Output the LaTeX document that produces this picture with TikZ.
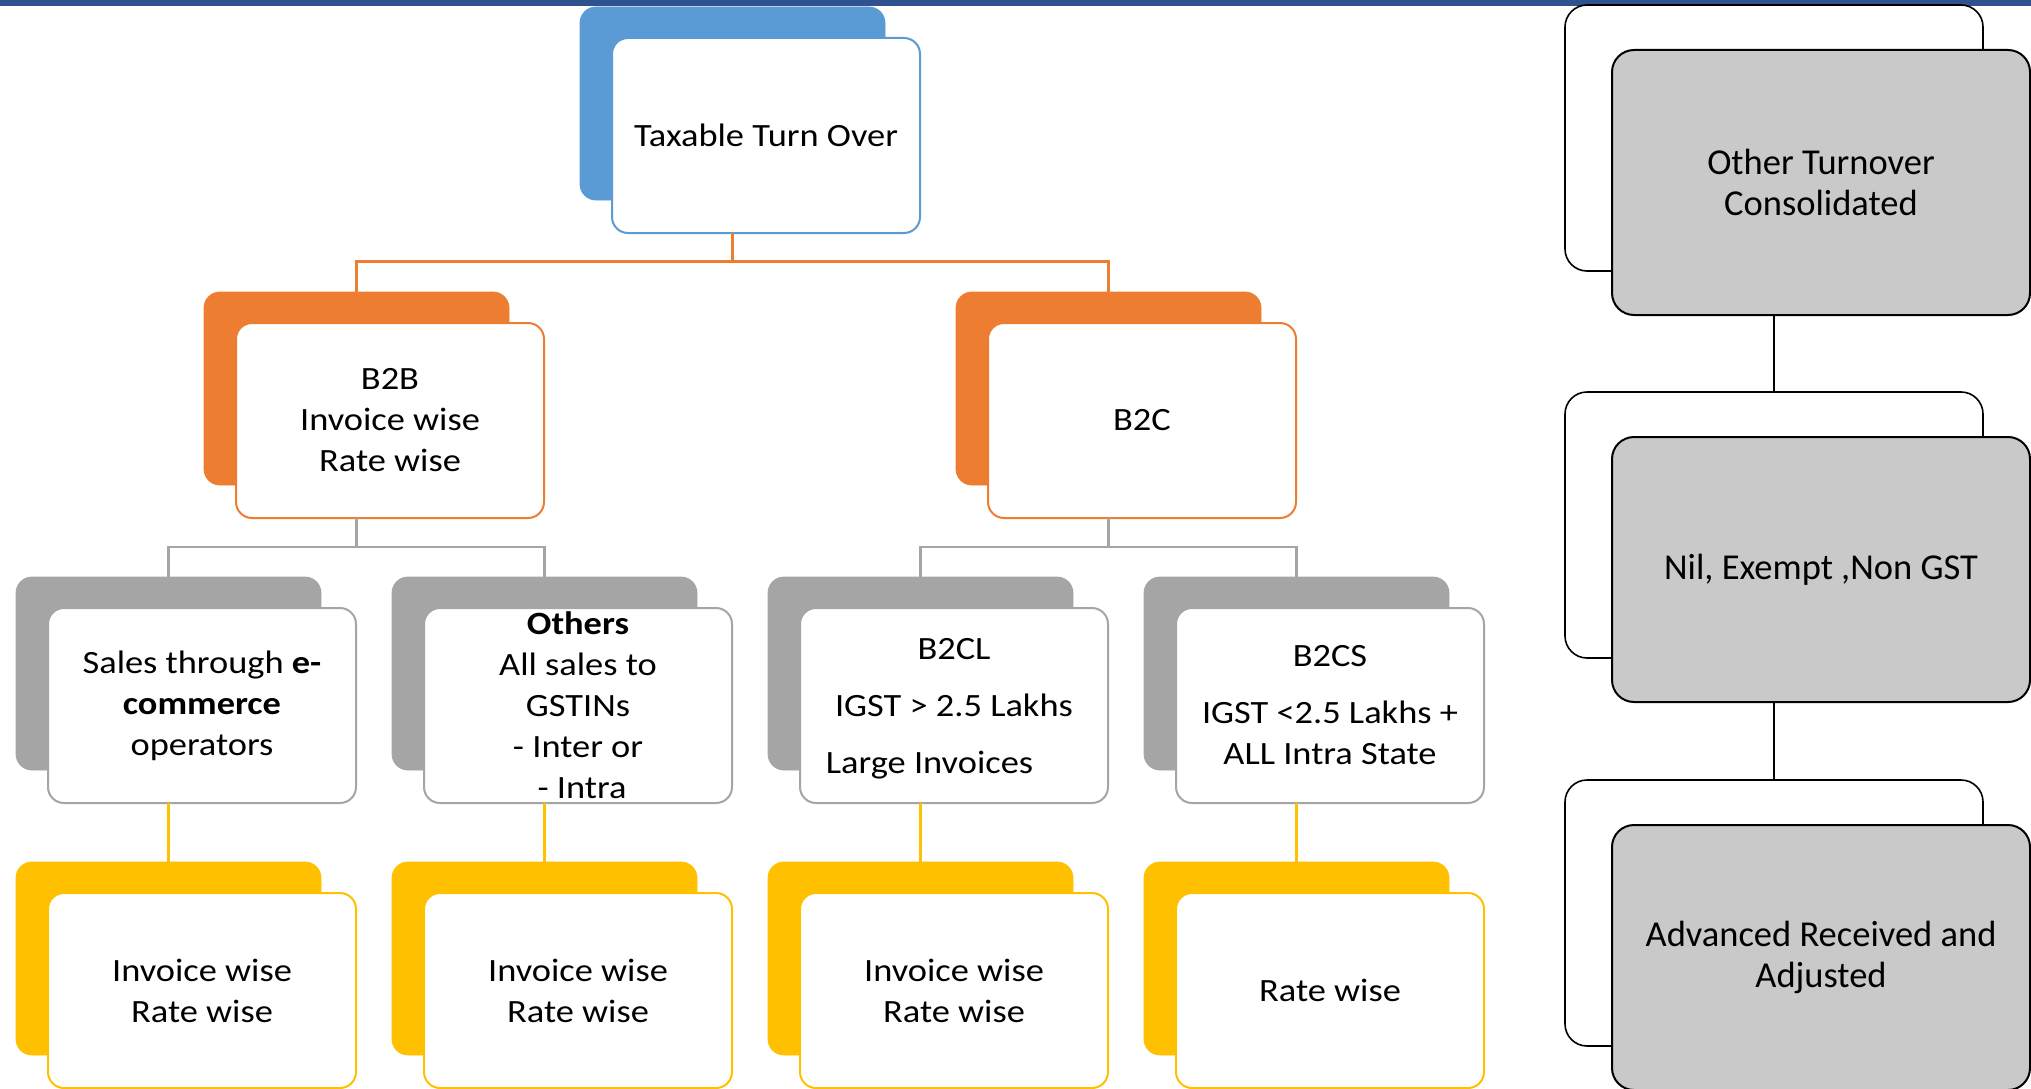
\documentclass[tikz,border=0pt]{standalone}
\usepackage{fontspec}
\newfontfamily\lfont[FakeStretch=1.12]{Carlito}
\newfontfamily\rfont{Carlito}
\definecolor{cblue}{HTML}{5B9BD5}
\definecolor{corange}{HTML}{ED7D31}
\definecolor{cgray}{HTML}{A5A5A5}
\definecolor{cyellow}{HTML}{FFC000}
\definecolor{cright}{HTML}{C9C9C9}
\definecolor{cbar}{HTML}{2F528F}
\begin{document}
\begin{tikzpicture}[x=1pt,y=-1pt,
  lbk/.style={rounded corners=16pt, minimum width=305pt, minimum height=193pt, anchor=north west,
    inner sep=0pt, outer sep=0pt, draw=#1, fill=#1, line width=0.8pt},
  lfr/.style={rounded corners=16pt, minimum width=308pt, minimum height=195pt, anchor=north west,
    inner sep=0pt, outer sep=0pt, draw=#1, fill=white, line width=2pt, align=center,
    font=\lfont\fontsize{32.5}{41}\selectfont},
  rbk/.style={rounded corners=22pt, minimum width=418pt, minimum height=266pt, anchor=north west,
    inner sep=0pt, outer sep=0pt, draw=black, fill=white, line width=1.6pt},
  rfr/.style={rounded corners=22pt, minimum width=418pt, minimum height=265pt, anchor=north west,
    inner sep=0pt, outer sep=0pt, draw=black, fill=cright, line width=2pt, align=center,
    font=\rfont\fontsize{36.5}{40.6}\selectfont},
  conn/.style={draw=#1, line width=2.5pt}
]
\useasboundingbox (0,0) rectangle (2031,1089);
\fill[white] (0,0) rectangle (2031,1089);
\fill[cbar] (0,0) rectangle (2031,6.5);

% level 1
\node[lbk=cblue] (tb) at (580,7) {};
\node[lfr=cblue] (t) at (612,38) {Taxable Turn Over};
% level 2
\node[lbk=corange] (bbb) at (204,292) {};
\node[lfr=corange] (bb) at (236,323) {B2B\\Invoice wise\\Rate wise};
\node[lbk=corange] (bcb) at (956,292) {};
\node[lfr=corange] (bc) at (988,323) {B2C};
% level 3
\node[lbk=cgray] (s1b) at (16,577) {};
\node[lfr=cgray] (s1) at (48,608) {Sales through \textbf{e-}\\\textbf{commerce}\\operators};
\node[lbk=cgray] (s2b) at (392,577) {};
\node[lfr=cgray] (s2) at (424,608) {\textbf{Others}\\All sales to\\GSTINs\\- Inter or\\\hspace*{8pt}- Intra};
\node[lbk=cgray] (s3b) at (768,577) {};
\node[lfr=cgray] (s3) at (800,608) {\rule{0pt}{27pt}B2CL\\[16pt]IGST > 2.5 Lakhs\\[16pt]Large Invoices\hspace*{49pt}};
\node[lbk=cgray] (s4b) at (1144,577) {};
\node[lfr=cgray] (s4) at (1176,608) {B2CS\\[16pt]IGST <2.5 Lakhs +\\ALL Intra State};
% level 4
\node[lbk=cyellow] (r1b) at (16,862) {};
\node[lfr=cyellow] (r1) at (48,893) {Invoice wise\\Rate wise};
\node[lbk=cyellow] (r2b) at (392,862) {};
\node[lfr=cyellow] (r2) at (424,893) {Invoice wise\\Rate wise};
\node[lbk=cyellow] (r3b) at (768,862) {};
\node[lfr=cyellow] (r3) at (800,893) {Invoice wise\\Rate wise};
\node[lbk=cyellow] (r4b) at (1144,862) {};
\node[lfr=cyellow] (r4) at (1176,893) {Rate wise};

% right column
\node[rbk] (o1b) at (1565,5) {};
\node[rfr] (o1) at (1612,50) {Other Turnover\\Consolidated};
\node[rbk] (o2b) at (1565,392) {};
\node[rfr] (o2) at (1612,437) {Nil, Exempt ,Non GST};
\node[rbk] (o3b) at (1565,780) {};
\node[rfr] (o3) at (1612,825) {Advanced Received and\\Adjusted};

% connectors
\draw[conn=corange] (t.south -| tb.center) -- ++(0,28.5) -| (bbb.north);
\draw[conn=corange] (t.south -| tb.center) -- ++(0,28.5) -| (bcb.north);
\draw[conn=cgray] (bb.south -| bbb.center) -- ++(0,29) -| (s1b.north);
\draw[conn=cgray] (bb.south -| bbb.center) -- ++(0,29) -| (s2b.north);
\draw[conn=cgray] (bc.south -| bcb.center) -- ++(0,29) -| (s3b.north);
\draw[conn=cgray] (bc.south -| bcb.center) -- ++(0,29) -| (s4b.north);
\draw[conn=cyellow] (s1.south -| s1b.center) -- (r1b.north);
\draw[conn=cyellow] (s2.south -| s2b.center) -- (r2b.north);
\draw[conn=cyellow] (s3.south -| s3b.center) -- (r3b.north);
\draw[conn=cyellow] (s4.south -| s4b.center) -- (r4b.north);
\draw[draw=black, line width=2pt] (o1.south -| o1b.center) -- (o2b.north);
\draw[draw=black, line width=2pt] (o2.south -| o2b.center) -- (o3b.north);
\end{tikzpicture}
\end{document}
